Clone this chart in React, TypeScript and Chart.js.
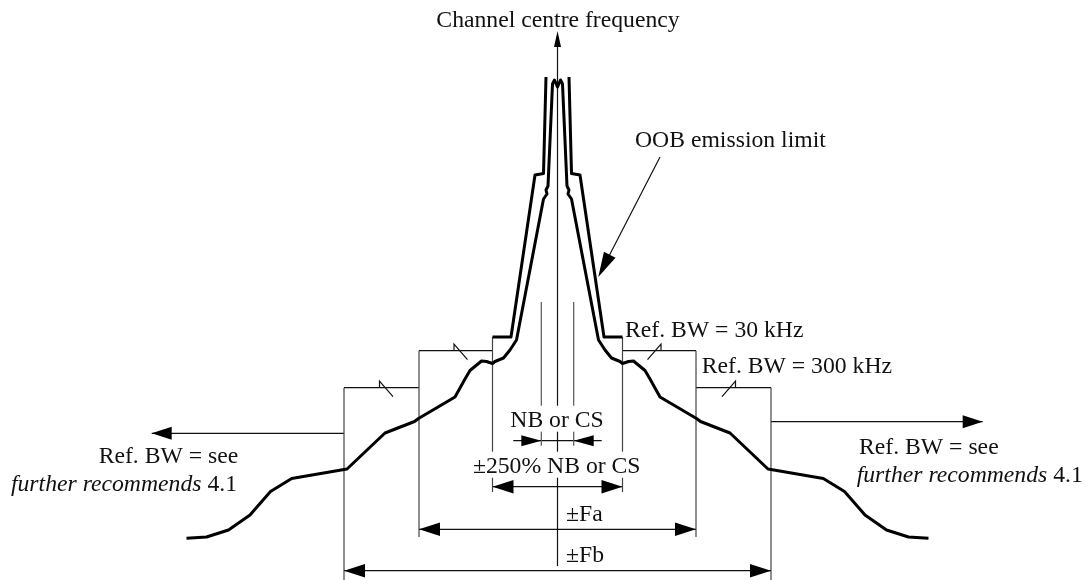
import React, { useEffect, useRef } from "react";
import { Chart, registerables } from "chart.js";

Chart.register(...registerables);

// x = frequency offset from the channel centre, y = drawing level (measured downwards)
// Emission spectrum, right half (mirrored for the left half)
const spectrumOffsets = [0, 3, 5, 9.5, 11.5, 10.5, 14, 41, 47.5, 54, 62.5, 65, 71, 76, 87.5, 92.5, 102.5, 139, 143, 172.5, 210.5, 265.8, 287, 307.5, 329, 351, 371];
const spectrumLevels = [87, 80, 84, 186, 190, 194, 199, 340, 350, 358, 361.5, 363.5, 361.5, 361, 370.5, 379, 397, 418.5, 421.5, 433, 469, 478.5, 491.5, 515, 530, 537, 538.3];

// OOB emission limit mask, right half
const maskOffsets = [11.5, 14, 22.5, 46.5, 65];
const maskLevels = [77, 173.5, 175, 337, 337];

// Boundaries: ±250% NB/CS, ±Fa, ±Fb
const boundaryOffsets = [65, 138.5, 213.5];
const boundaryTops = [337, 350.7, 387.7];
const boundaryBottoms = [492, 537, 580];
const dimensionLevels = [486.7, 529.3, 570.7];

// Reference-bandwidth segments (30 kHz, 300 kHz) and their break marks
const refBwLevels = [350.7, 387.7];
const breakOffsets = [103.5, 178];

// NB or CS width
const nbOffset = 16.2;
const nbTop = 302;
const nbArrowLevel = 440.7;
const nbArrowTail = 44.2;

// Outward arrows "Ref. BW = see"
const outerArrowLeft = { from: -213.5, to: -405.8, level: 433.3 };
const outerArrowRight = { from: 213.5, to: 425.2, level: 421.7 };

// Centre-frequency axis
const centreBottom = 566;
const centreTop = 31;

// OOB leader line
const leaderFrom = { x: 102.5, y: 157 };
const leaderTo = { x: 40.8, y: 277 };

const texts = {
  centre: "Channel centre frequency",
  oob: "OOB emission limit",
  ref30: "Ref. BW = 30 kHz",
  ref300: "Ref. BW = 300 kHz",
  see: "Ref. BW = see",
  further: "further recommends",
  clause: " 4.1",
  nb: "NB or CS",
  nb250: "±250% NB or CS",
  fa: "±Fa",
  fb: "±Fb",
};

type P = { x: number; y: number };

function mirrored(xs: number[], ys: number[]): P[] {
  const right = xs.map((x, i) => ({ x, y: ys[i] }));
  const left = right.filter((p) => p.x !== 0).map((p) => ({ x: -p.x, y: p.y })).reverse();
  return [...left, ...right];
}

const FONT = '"Liberation Serif", "Times New Roman", serif';
const FS = 23.7;

export default function App() {
  const ref = useRef<HTMLCanvasElement | null>(null);

  useEffect(() => {
    if (!ref.current) return;

    const thick = (data: P[]) => ({
      data,
      showLine: true,
      borderColor: "#000",
      borderWidth: 3,
      pointRadius: 0,
      fill: false,
      tension: 0,
      borderJoinStyle: "round" as const,
    });
    const thin = (data: P[], color = "#333") => ({
      data,
      showLine: true,
      borderColor: color,
      borderWidth: 1.2,
      pointRadius: 0,
      fill: false,
      tension: 0,
    });

    const datasets: any[] = [];
    // spectrum
    datasets.push(thick(mirrored(spectrumOffsets, spectrumLevels)));
    // mask
    const maskRight = maskOffsets.map((x, i) => ({ x, y: maskLevels[i] }));
    datasets.push(thick(maskRight));
    datasets.push(thick(maskRight.map((p) => ({ x: -p.x, y: p.y }))));

    for (const s of [1, -1]) {
      // boundary verticals
      boundaryOffsets.forEach((b, i) => {
        datasets.push(thin([{ x: s * b, y: boundaryTops[i] }, { x: s * b, y: boundaryBottoms[i] }], "#444"));
      });
      // ref BW horizontals
      refBwLevels.forEach((lv, i) => {
        datasets.push(thin([{ x: s * boundaryOffsets[i], y: lv }, { x: s * boundaryOffsets[i + 1], y: lv }], "#111"));
        const bx = breakOffsets[i];
        datasets.push(
          thin([
            { x: s * bx, y: lv },
            { x: s * bx, y: lv - 6.5 },
            { x: s * (bx - 13.5), y: lv + 9 },
          ], "#111")
        );
      });
      // NB verticals
      datasets.push(thin([{ x: s * nbOffset, y: nbTop }, { x: s * nbOffset, y: nbArrowLevel + 5 }], "#555"));
    }
    // NB arrow line
    datasets.push(thin([{ x: -nbArrowTail, y: nbArrowLevel }, { x: nbArrowTail, y: nbArrowLevel }], "#111"));
    // dimension lines
    boundaryOffsets.forEach((b, i) => {
      datasets.push(thin([{ x: -b, y: dimensionLevels[i] }, { x: b, y: dimensionLevels[i] }], "#111"));
    });
    // outer arrows
    datasets.push(thin([{ x: outerArrowLeft.from, y: outerArrowLeft.level }, { x: outerArrowLeft.to, y: outerArrowLeft.level }], "#111"));
    datasets.push(thin([{ x: outerArrowRight.from, y: outerArrowRight.level }, { x: outerArrowRight.to, y: outerArrowRight.level }], "#111"));
    // centre axis
    datasets.push(thin([{ x: 0, y: centreBottom }, { x: 0, y: centreTop + 5 }], "#111"));
    // leader
    datasets.push(thin([leaderFrom, { x: leaderTo.x + 3, y: leaderTo.y - 6 }], "#111"));

    // arrowheads: tip and a point on the shaft (direction)
    const heads: { tip: P; from: P; len: number; half: number }[] = [
      { tip: { x: 0, y: centreTop }, from: { x: 0, y: centreBottom }, len: 16, half: 3.5 },
      { tip: { x: -nbOffset, y: nbArrowLevel }, from: { x: -nbArrowTail, y: nbArrowLevel }, len: 20, half: 5.5 },
      { tip: { x: nbOffset, y: nbArrowLevel }, from: { x: nbArrowTail, y: nbArrowLevel }, len: 20, half: 5.5 },
      { tip: { x: outerArrowLeft.to, y: outerArrowLeft.level }, from: { x: outerArrowLeft.from, y: outerArrowLeft.level }, len: 20, half: 6.5 },
      { tip: { x: outerArrowRight.to, y: outerArrowRight.level }, from: { x: outerArrowRight.from, y: outerArrowRight.level }, len: 20, half: 6.5 },
      { tip: leaderTo, from: leaderFrom, len: 25, half: 6.5 },
    ];
    boundaryOffsets.forEach((b, i) => {
      heads.push({ tip: { x: -b, y: dimensionLevels[i] }, from: { x: 0, y: dimensionLevels[i] }, len: 21, half: 6.8 });
      heads.push({ tip: { x: b, y: dimensionLevels[i] }, from: { x: 0, y: dimensionLevels[i] }, len: 21, half: 6.8 });
    });

    const diagramPlugin = {
      id: "diagram",
      afterDatasetsDraw(chart: any) {
        const ctx = chart.ctx as CanvasRenderingContext2D;
        const xs = chart.scales.x;
        const ys = chart.scales.y;
        const px = (x: number) => xs.getPixelForValue(x);
        const py = (y: number) => ys.getPixelForValue(y);
        ctx.save();
        ctx.fillStyle = "#000";
        for (const h of heads) {
          const tx = px(h.tip.x), ty = py(h.tip.y);
          const fx = px(h.from.x), fy = py(h.from.y);
          const d = Math.hypot(fx - tx, fy - ty) || 1;
          const ux = (fx - tx) / d, uy = (fy - ty) / d;
          const bx = tx + ux * h.len, by = ty + uy * h.len;
          ctx.beginPath();
          ctx.moveTo(tx, ty);
          ctx.lineTo(bx - uy * h.half, by + ux * h.half);
          ctx.lineTo(bx + uy * h.half, by - ux * h.half);
          ctx.closePath();
          ctx.fill();
        }

        const font = (italic = false) => `${italic ? "italic " : ""}${FS}px ${FONT}`;
        const text = (s: string, x: number, y: number, align: CanvasTextAlign, italic = false, bg = false) => {
          ctx.font = font(italic);
          ctx.textAlign = align;
          ctx.textBaseline = "alphabetic";
          const X = px(x), Y = py(y);
          if (bg) {
            const w = ctx.measureText(s).width;
            let left = X;
            if (align === "center") left = X - w / 2;
            if (align === "right") left = X - w;
            ctx.fillStyle = "#fff";
            ctx.fillRect(left - 2, Y - 21, w + 4, 26);
          }
          ctx.fillStyle = "#111";
          ctx.fillText(s, X, Y);
        };

        text(texts.centre, 0.5, 27, "center");
        text(texts.oob, 77.5, 146.7, "left");
        text(texts.ref30, 67.5, 337, "left");
        text(texts.ref300, 144.2, 373.3, "left");
        text(texts.nb, -0.5, 426.7, "center", false, true);
        text(texts.nb250, -0.8, 472.7, "center", false, true);
        text(texts.fa, 8.5, 520.5, "left");
        text(texts.fb, 8.5, 562, "left");

        // left block (right aligned)
        text(texts.see, -319.2, 463.3, "right");
        ctx.font = font(false);
        const cw = ctx.measureText(texts.clause).width;
        text(texts.clause, -320.5, 491, "right");
        text(texts.further, -320.5 - (cw * (xs.max - xs.min)) / (xs.right - xs.left), 491, "right", true);

        // right block (left aligned)
        text(texts.see, 301.5, 454, "left");
        ctx.font = font(true);
        const fw = ctx.measureText(texts.further).width;
        text(texts.further, 299.2, 481.7, "left", true);
        text(texts.clause, 299.2 + (fw * (xs.max - xs.min)) / (xs.right - xs.left), 481.7, "left");
        ctx.restore();
      },
    };

    const chart = new Chart(ref.current, {
      type: "scatter",
      data: { datasets },
      options: {
        responsive: false,
        maintainAspectRatio: false,
        animation: false,
        events: [],
        layout: { padding: 0 },
        plugins: { legend: { display: false }, tooltip: { enabled: false } },
        scales: {
          x: { type: "linear", min: -557.5, max: 531.5, display: false },
          y: { type: "linear", min: 0, max: 580, reverse: true, display: false },
        },
      },
      plugins: [diagramPlugin],
    } as any);

    return () => chart.destroy();
  }, []);

  return (
    <div style={{ position: "absolute", left: 0, top: 0, width: 1089, height: 580, background: "#fff" }}>
      <canvas ref={ref} width={1089} height={580} />
    </div>
  );
}
